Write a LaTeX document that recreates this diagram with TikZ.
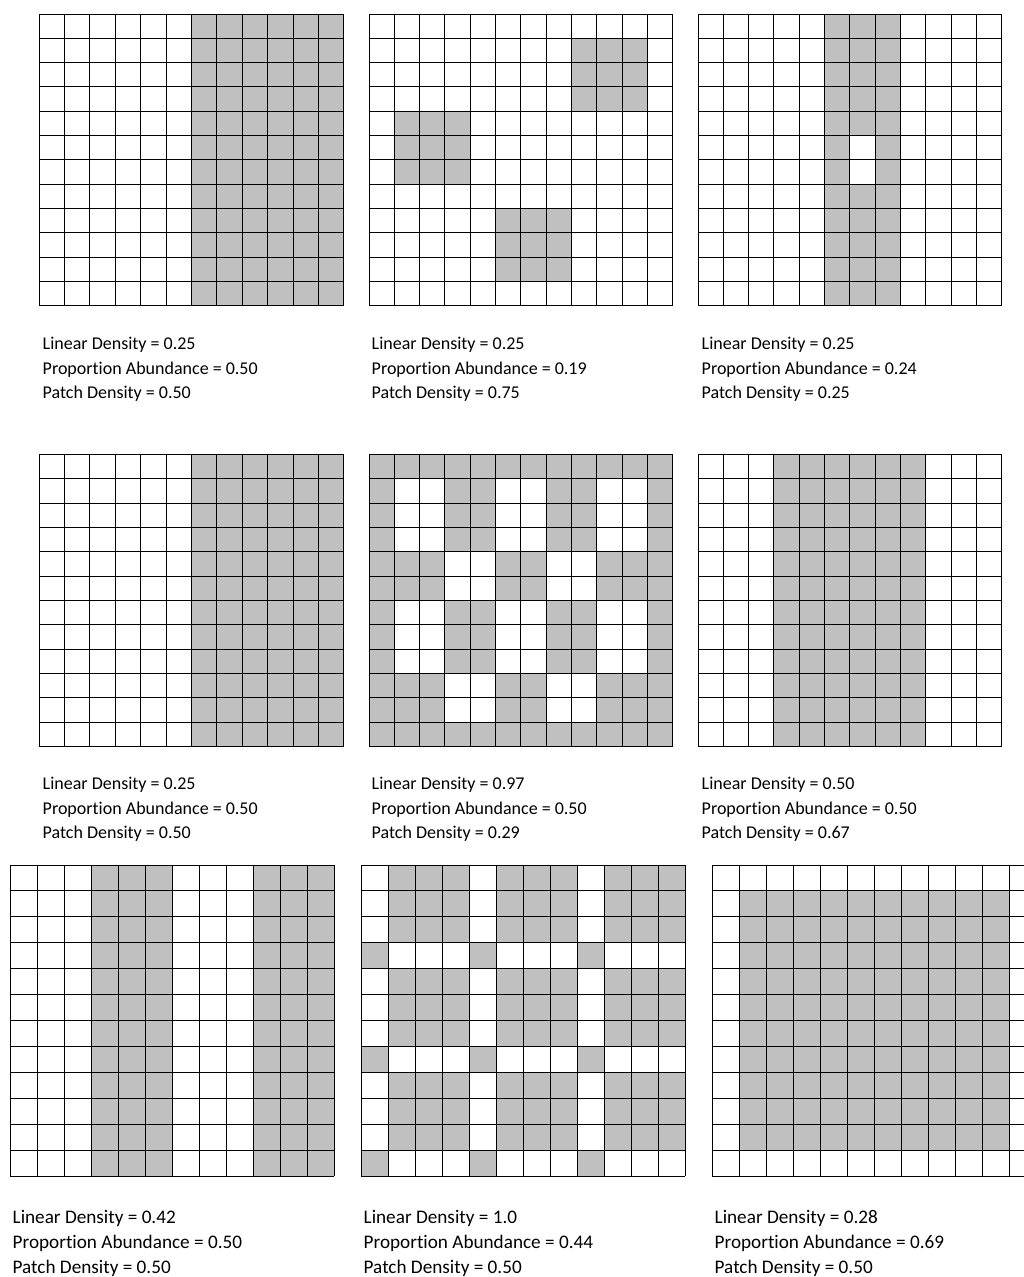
\documentclass[tikz,border=0pt]{standalone}
\usepackage{fontspec}
\setmainfont[Ligatures={NoCommon}]{Carlito}
\tikzset{
  cellfill/.style={fill=shade},
  gridline/.style={draw=black, line width=1pt},
  stat/.style={anchor=base west, inner sep=0pt, text=black},
}
\definecolor{shade}{RGB}{192,192,192}
\newcommand{\patchgrid}[5]{%
  \begin{scope}[shift={(#1,#2)},x=#3pt,y=-#4pt]
    \foreach \ca/\ra/\cb/\rb in {#5} {\fill[cellfill] (\ca,\ra) rectangle (\cb,\rb);}
    \foreach \i in {0,...,12} {\draw[gridline] (\i,0) -- (\i,12); \draw[gridline] (0,\i) -- (12,\i);}
  \end{scope}}
\begin{document}
\begin{tikzpicture}[x=1pt,y=-1pt]
\useasboundingbox (0,0) rectangle (1024,1277);
\clip (0,0) rectangle (1024,1277);
\fill[white] (0,0) rectangle (1024,1277);
% Row 1
\patchgrid{39}{14}{25.4}{24.33}{6/0/12/12}
\patchgrid{369}{14}{25.3}{24.33}{8/1/11/4, 1/4/4/7, 5/8/8/11}
\patchgrid{698}{14}{25.33}{24.33}{5/0/6/12, 7/0/8/12, 6/0/7/5, 6/7/7/12}
% Row 2
\patchgrid{39}{454.5}{25.4}{24.33}{6/0/12/12}
\patchgrid{369}{454.5}{25.3}{24.33}{0/0/12/1, 0/11/12/12,
  0/1/1/4, 3/1/5/4, 7/1/9/4, 11/1/12/4,
  0/4/3/6, 5/4/7/6, 9/4/12/6,
  0/6/1/9, 3/6/5/9, 7/6/9/9, 11/6/12/9,
  0/9/3/11, 5/9/7/11, 9/9/12/11}
\patchgrid{698}{454.5}{25.33}{24.33}{3/0/9/12}
% Row 3
\patchgrid{10}{865}{27}{25.92}{3/0/6/12, 9/0/12/12}
\patchgrid{361}{865}{27}{25.92}{1/0/4/3, 5/0/8/3, 9/0/12/3,
  0/3/1/4, 4/3/5/4, 8/3/9/4,
  1/4/4/7, 5/4/8/7, 9/4/12/7,
  0/7/1/8, 4/7/5/8, 8/7/9/8,
  1/8/4/11, 5/8/8/11, 9/8/12/11,
  0/11/1/12, 4/11/5/12, 8/11/9/12}
\patchgrid{712}{865}{27}{25.92}{1/1/11/11}
% Labels row 1
\begin{scope}[font=\fontsize{18}{22}\selectfont]
\node[stat] (a1) at (42.5,349.5) {Linear Density = 0.25};
\node[stat] (a2) at (42.5,374) {Proportion Abundance = 0.50};
\node[stat] (a3) at (42.5,398.5) {Patch Density = 0.50};
\node[stat] (b1) at (371.5,349.5) {Linear Density = 0.25};
\node[stat] (b2) at (371.5,374) {Proportion Abundance = 0.19};
\node[stat] (b3) at (371.5,398.5) {Patch Density = 0.75};
\node[stat] (c1) at (701.5,349.5) {Linear Density = 0.25};
\node[stat] (c2) at (701.5,374) {Proportion Abundance = 0.24};
\node[stat] (c3) at (701.5,398.5) {Patch Density = 0.25};
% Labels row 2
\node[stat] (d1) at (42.5,789.5) {Linear Density = 0.25};
\node[stat] (d2) at (42.5,814) {Proportion Abundance = 0.50};
\node[stat] (d3) at (42.5,838.5) {Patch Density = 0.50};
\node[stat] (e1) at (371.5,789.5) {Linear Density = 0.97};
\node[stat] (e2) at (371.5,814) {Proportion Abundance = 0.50};
\node[stat] (e3) at (371.5,838.5) {Patch Density = 0.29};
\node[stat] (f1) at (701.5,789.5) {Linear Density = 0.50};
\node[stat] (f2) at (701.5,814) {Proportion Abundance = 0.50};
\node[stat] (f3) at (701.5,838.5) {Patch Density = 0.67};
\end{scope}
% Labels row 3
\begin{scope}[font=\fontsize{19.2}{23}\selectfont]
\node[stat] (g1) at (12.5,1223.5) {Linear Density = 0.42};
\node[stat] (g2) at (12.5,1248.5) {Proportion Abundance = 0.50};
\node[stat] (g3) at (12.5,1273.5) {Patch Density = 0.50};
\node[stat] (h1) at (363.5,1223.5) {Linear Density = 1.0};
\node[stat] (h2) at (363.5,1248.5) {Proportion Abundance = 0.44};
\node[stat] (h3) at (363.5,1273.5) {Patch Density = 0.50};
\node[stat] (i1) at (714.5,1223.5) {Linear Density = 0.28};
\node[stat] (i2) at (714.5,1248.5) {Proportion Abundance = 0.69};
\node[stat] (i3) at (714.5,1273.5) {Patch Density = 0.50};
\end{scope}
\end{tikzpicture}
\end{document}
